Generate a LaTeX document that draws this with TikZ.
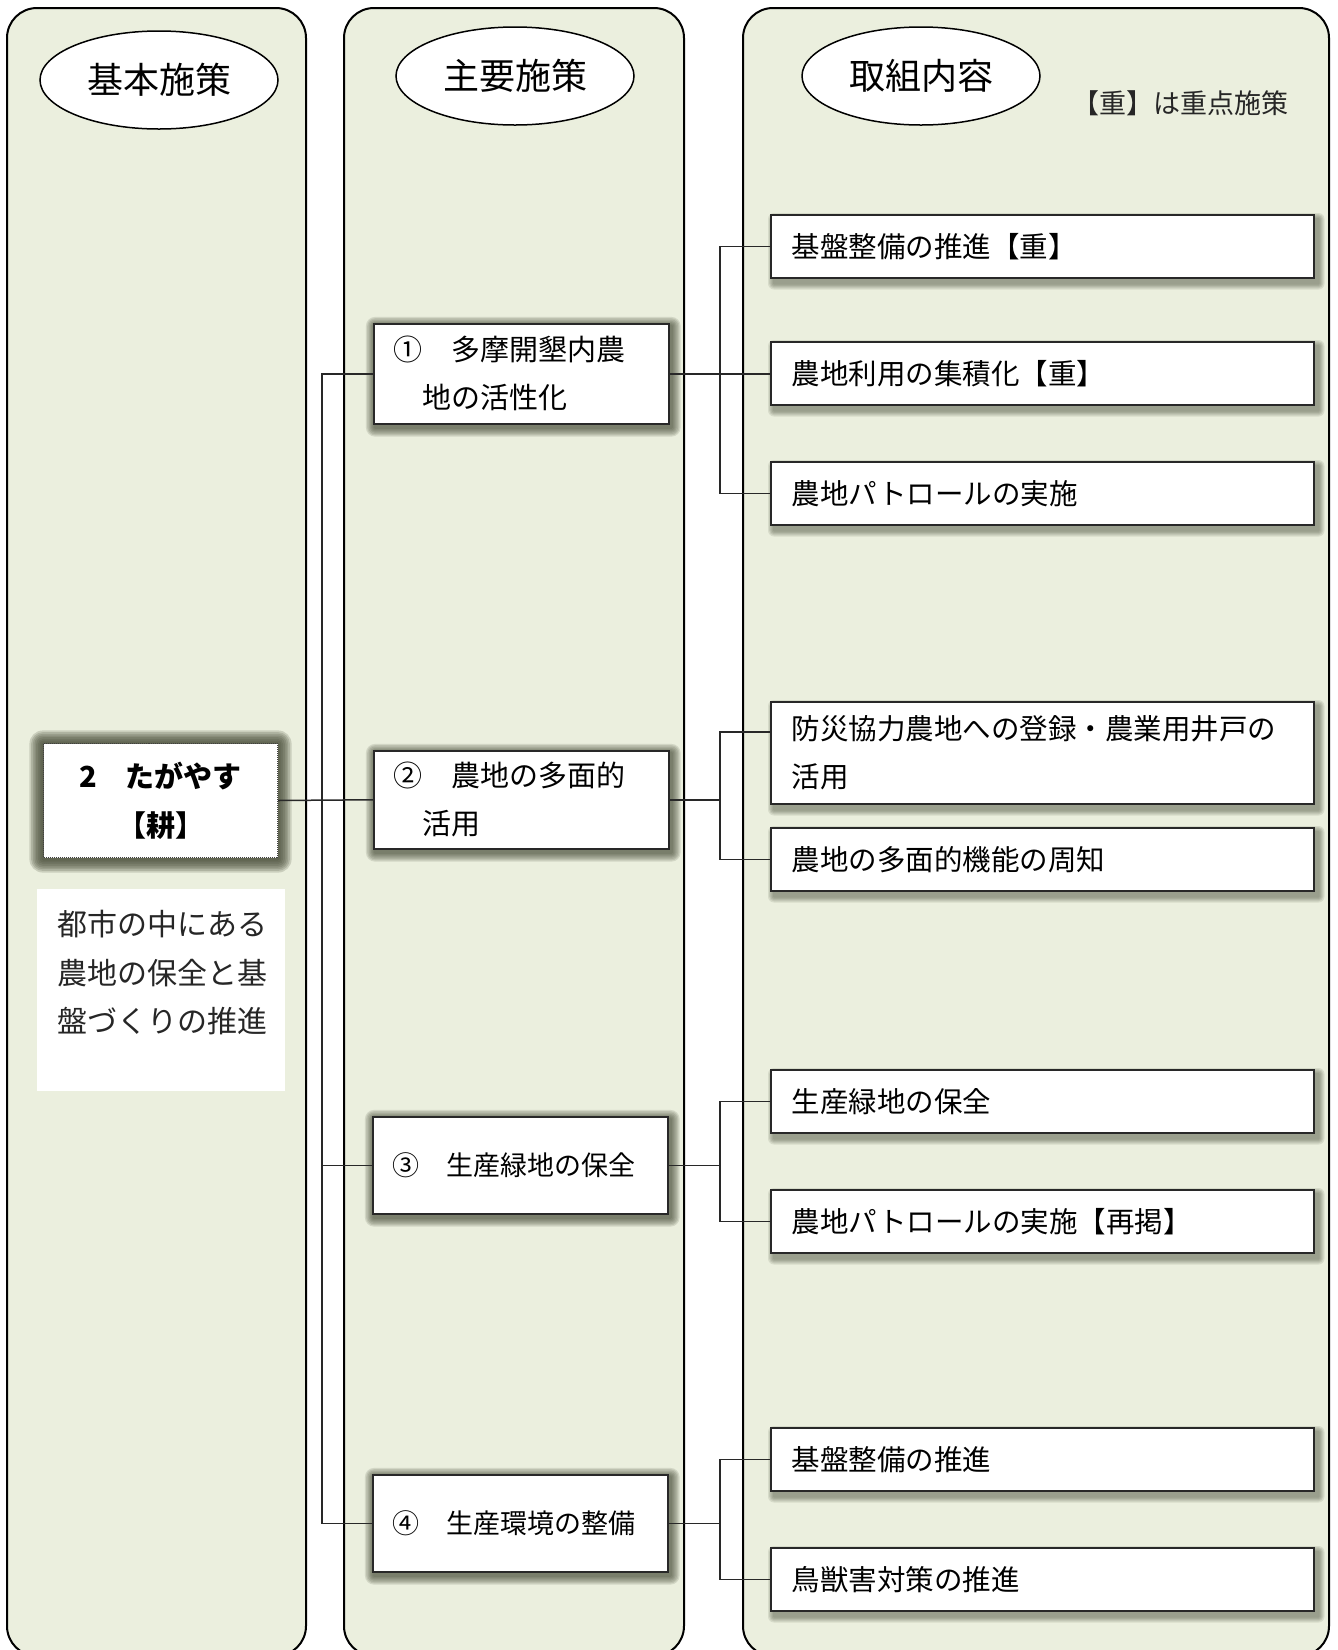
\documentclass[tikz,border=0pt]{standalone}
\usepackage{fontspec}
\setmainfont{Noto Sans CJK JP}
\usetikzlibrary{shapes.geometric,calc}
\definecolor{colbg}{RGB}{235,239,222}
\definecolor{shcol}{RGB}{70,75,55}
\definecolor{linec}{RGB}{40,40,40}
\pgfdeclarelayer{back}
\pgfdeclarelayer{shade}
\pgfsetlayers{back,shade,main}
% #1 node, #2 dx, #3 dy (down), #4 step, #5 steps, #6 opacity per step
\newcommand{\softshade}[6]{%
  \begin{pgfonlayer}{shade}
  \foreach \rr in {1,...,#5}{%
    \fill[shcol,opacity=#6,rounded corners=\rr*#4*1pt]
      ($(#1.north west)+(#2-\rr*#4,#3-\rr*#4)$) rectangle
      ($(#1.south east)+(#2+\rr*#4,#3+\rr*#4)$);}
  \end{pgfonlayer}}
\begin{document}
\begin{tikzpicture}[x=1pt,y=-1pt,
  col/.style={draw=black,line width=2pt,fill=colbg,rounded corners=30pt},
  head/.style={ellipse,draw=black,line width=1.5pt,fill=white,minimum width=238pt,minimum height=98pt,font=\fontsize{36}{40}\selectfont,inner sep=0pt},
  rbox/.style={draw=linec,line width=1.5pt,fill=white,anchor=north west,minimum width=543pt,minimum height=63pt,text width=501pt,align=left,inner xsep=21pt,font=\fontsize{28.5}{48}\selectfont},
  mbox/.style={draw=linec,line width=1.5pt,fill=white,anchor=north west,minimum width=295pt,minimum height=98pt,text width=255pt,align=left,inner xsep=20pt,font=\fontsize{29}{48}\selectfont},
  conn/.style={draw=linec,line width=1.5pt},
]
\useasboundingbox (0,0) rectangle (1338,1650);
\begin{pgfonlayer}{back}
\fill[white] (0,0) rectangle (1338,1650);
% columns
\draw[col] (7,8) rectangle (306,1656);
\draw[col] (344,8) rectangle (684,1656);
\draw[col] (743,8) rectangle (1329,1656);
\end{pgfonlayer}
% headers
\node[head] (h1) at (159,80) {基本施策};
\node[head] (h2) at (515,76) {主要施策};
\node[head] (h3) at (921,76) {取組内容};
\node[font=\fontsize{27}{30}\selectfont,text=black!85] (note) at (1180,103) {【重】は重点施策};
% basic policy
\node[draw=black!75,densely dotted,line width=1pt,fill=white,anchor=north west,minimum width=234pt,minimum height=114pt,align=center,font=\bfseries\fontsize{29}{49}\selectfont] (b0) at (43,743) {2　たがやす\\【耕】};
\softshade{b0}{0}{1}{1.7}{8}{0.2}
\node[fill=white,anchor=north west,minimum width=248pt,minimum height=202pt,inner sep=0pt] (lt) at (37,889) {};
\node[anchor=north west,align=left,font=\fontsize{30}{48.5}\selectfont,inner sep=0pt,text=black!85] (ltx) at (57,910) {都市の中にある\\農地の保全と基\\盤づくりの推進};
% main policies
\node[mbox,minimum height=100pt] (m1) at (373,323) {①　多摩開墾内農\\\hspace*{1em}地の活性化};
\node[mbox] (m2) at (373,750) {②　農地の多面的\\\hspace*{1em}活用};
\node[mbox,minimum height=97pt,font=\fontsize{27}{48}\selectfont] (m3) at (372,1116) {③　生産緑地の保全};
\node[mbox,minimum height=97pt,font=\fontsize{27}{48}\selectfont] (m4) at (372,1474) {④　生産環境の整備};
\foreach \m in {m1,m2,m3,m4}{\softshade{\m}{2}{3}{1.3}{7}{0.15}}
% actions
\node[rbox] (r1) at (770,214) {基盤整備の推進【重】};
\node[rbox] (r2) at (770,341) {農地利用の集積化【重】};
\node[rbox] (r3) at (770,461) {農地パトロールの実施};
\node[rbox,minimum height=102pt] (r4) at (770,701) {防災協力農地への登録・農業用井戸の\\活用};
\node[rbox] (r5) at (770,827) {農地の多面的機能の周知};
\node[rbox] (r6) at (770,1069) {生産緑地の保全};
\node[rbox] (r7) at (770,1189) {農地パトロールの実施【再掲】};
\node[rbox] (r8) at (770,1427) {基盤整備の推進};
\node[rbox] (r9) at (770,1547) {鳥獣害対策の推進};
\foreach \r in {r1,r2,r3,r4,r5,r6,r7,r8,r9}{\softshade{\r}{4}{5}{1.2}{5}{0.12}}
% connectors
\coordinate (trunk) at (322,0);
\coordinate (bus) at (720,0);
\draw[conn] (b0.east) -- (m2.west);
\draw[conn] (m1.west) -- (m1.west -| trunk) -- (m4.west -| trunk) -- (m4.west);
\draw[conn] (m3.west) -- (m3.west -| trunk);
\draw[conn] (m1.east) -- (m1.east -| r2.west);
\draw[conn] (r1.west) -- (r1.west -| bus) -- (r3.west -| bus) -- (r3.west);
\draw[conn] (m2.east) -- (m2.east -| bus);
\coordinate (r4a) at ([yshift=21pt]r4.west);
\draw[conn] (r4a) -- (r4a -| bus) -- (r5.west -| bus) -- (r5.west);
\draw[conn] (m3.east) -- (m3.east -| bus);
\draw[conn] (r6.west) -- (r6.west -| bus) -- (r7.west -| bus) -- (r7.west);
\draw[conn] (m4.east) -- (m4.east -| bus);
\draw[conn] (r8.west) -- (r8.west -| bus) -- (r9.west -| bus) -- (r9.west);
\end{tikzpicture}
\end{document}
